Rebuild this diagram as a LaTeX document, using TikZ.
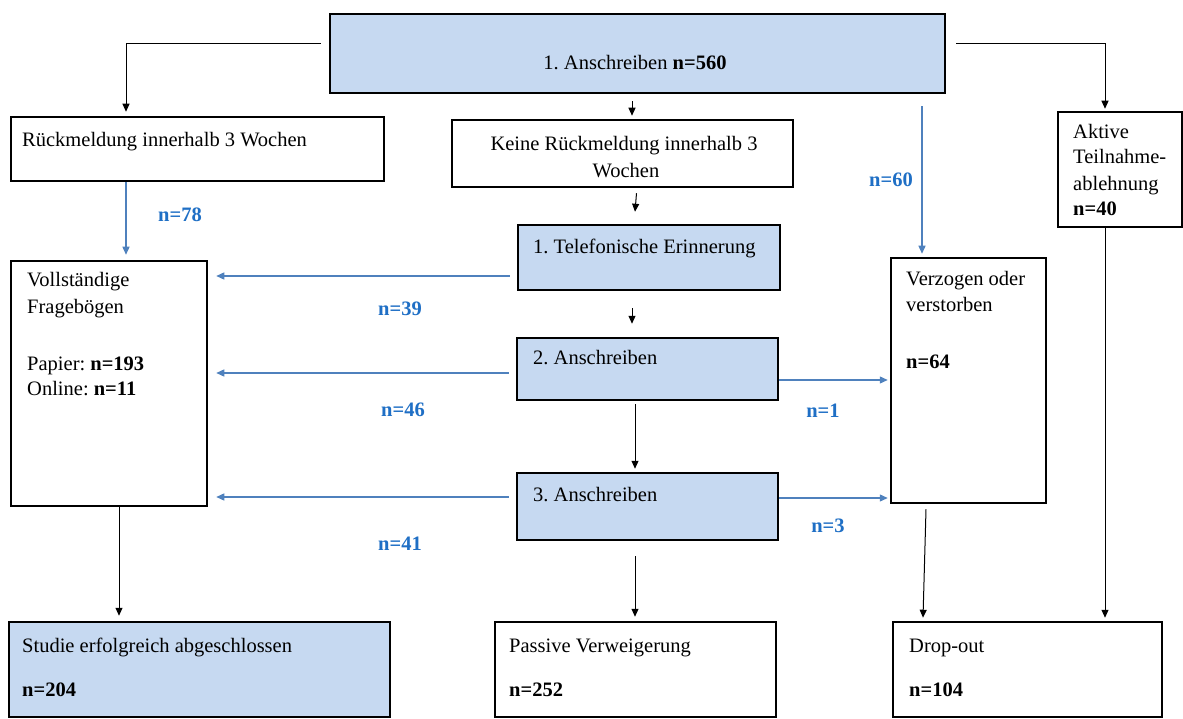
\documentclass[tikz,border=0pt]{standalone}
\usepackage{fontspec}
\setmainfont{Liberation Serif}
\usetikzlibrary{arrows.meta,calc}
\definecolor{boxblue}{HTML}{C6D9F1}
\definecolor{linkblue}{HTML}{4F81BD}
\definecolor{countblue}{HTML}{1F6FC5}
\frenchspacing
\begin{document}
\begin{tikzpicture}[x=1pt,y=-1pt,
  stage/.style={draw=black,line width=2.5pt,inner sep=0pt},
  bluestage/.style={stage,fill=boxblue},
  txt/.style={inner sep=0pt,anchor=base west,font=\fontsize{20.5}{26.5}\selectfont},
  ctxt/.style={txt,anchor=base},
  count/.style={inner sep=0pt,anchor=base,text=countblue,font=\fontsize{20.5}{24}\selectfont\bfseries},
  flow/.style={draw=black,line width=1pt,-{Triangle[length=8pt,width=7pt]}},
  bflow/.style={draw=linkblue,line width=1.3pt,-{Triangle[length=8pt,width=7pt]}}]
\useasboundingbox (0,0) rectangle (1183,719);

% boxes
\node[bluestage,minimum width=615pt,minimum height=79pt] (start) at (637.5,53.5) {};
\node[stage,minimum width=373pt,minimum height=64pt] (rueck) at (197.5,149) {};
\node[stage,minimum width=341pt,minimum height=67pt] (keine) at (622.5,153.5) {};
\node[stage,minimum width=124pt,minimum height=115pt] (aktive) at (1120,169.5) {};
\node[bluestage,minimum width=262pt,minimum height=65pt] (tel) at (649,257.5) {};
\node[stage,minimum width=196pt,minimum height=245pt] (voll) at (109,383.5) {};
\node[bluestage,minimum width=261pt,minimum height=62pt] (ansch2) at (647.5,369) {};
\node[bluestage,minimum width=261pt,minimum height=67pt] (ansch3) at (647.5,506.5) {};
\node[stage,minimum width=155pt,minimum height=245pt] (verz) at (968.5,380.5) {};
\node[bluestage,minimum width=381pt,minimum height=95pt] (studie) at (199.5,669.5) {};
\node[stage,minimum width=281pt,minimum height=95pt] (passive) at (635.5,669.5) {};
\node[stage,minimum width=269pt,minimum height=95pt] (dropout) at (1027.5,669.5) {};

% box texts, one node per line
\node[ctxt] (tstart) at (635,70) {1. Anschreiben \textbf{n=560}};
\node[txt] (trueck) at (22,147) {Rückmeldung innerhalb 3 Wochen};
\node[ctxt] (tkeineA) at (624,151) {Keine Rückmeldung innerhalb 3};
\node[ctxt] (tkeineB) at (626,178) {Wochen};
\node[txt] (taktiveA) at (1073,139) {Aktive};
\node[txt] (taktiveB) at (1073,164) {Teilnahme-};
\node[txt] (taktiveC) at (1073,191) {ablehnung};
\node[txt] (taktiveD) at (1073,216) {\textbf{n=40}};
\node[txt] (ttel) at (533,254) {1. Telefonische Erinnerung};
\node[txt] (tvollA) at (27,287) {Vollständige};
\node[txt] (tvollB) at (27,313) {Fragebögen};
\node[txt] (tvollC) at (27,370) {Papier: \textbf{n=193}};
\node[txt] (tvollD) at (27,395) {Online: \textbf{n=11}};
\node[txt] (tansch2) at (533,364) {2. Anschreiben};
\node[txt] (tansch3) at (533,501) {3. Anschreiben};
\node[txt] (tverzA) at (906,286) {Verzogen oder};
\node[txt] (tverzB) at (906,312) {verstorben};
\node[txt] (tverzC) at (906,368) {\textbf{n=64}};
\node[txt] (tstudieA) at (22,652) {Studie erfolgreich abgeschlossen};
\node[txt] (tstudieB) at (22,696) {\textbf{n=204}};
\node[txt] (tpassiveA) at (509,652) {Passive Verweigerung};
\node[txt] (tpassiveB) at (509,696) {\textbf{n=252}};
\node[txt] (tdropoutA) at (909,652) {Drop-out};
\node[txt] (tdropoutB) at (909,696) {\textbf{n=104}};

% black connectors
\draw[flow,shorten <=8pt,shorten >=4pt] ($(start.west)+(0,-9.5)$) -| ($(rueck.north)+(-71.5,0)$);
\draw[flow,shorten <=10pt,shorten >=2pt] ($(start.east)+(0,-9.5)$) -| ($(aktive.north)+(-15,0)$);
\draw[flow] ($(start.south)+(-5.5,7)$) -- ($(keine.north)+(9.5,-3)$);
\draw[flow] ($(keine.south)+(14,5)$) -- ($(tel.north)+(-14,-12)$);
\draw[flow] ($(tel.south)+(-17,17)$) -- ($(ansch2.north)+(-15.5,-13)$);
\draw[flow] ($(ansch2.south)+(-12.5,3)$) -- ($(ansch3.north)+(-12.5,-3)$);
\draw[flow] ($(ansch3.south)+(-12.5,15)$) -- ($(passive.north)+(-0.5,-4)$);
\draw[flow] ($(voll.south)+(10,0)$) -- ($(studie.north)+(-80.5,-5)$);
\draw[flow] ($(verz.south)+(-42.5,5)$) -- ($(dropout.north)+(-104.5,-3)$);
\draw[flow] ($(aktive.south)+(-15,0)$) -- ($(dropout.north)+(77.5,-3)$);

% blue connectors
\draw[bflow] ($(rueck.south)+(-71.5,0)$) -- ($(voll.north)+(17,-5)$);
\draw[bflow] ($(start.south)+(284.5,12)$) -- ($(verz.north)+(-46.5,-3)$);
\coordinate (c1) at ($(tel.west)+(-7,18.5)$);
\draw[bflow,shorten >=8pt] (c1) -- (c1 -| voll.east);
\coordinate (c2) at ($(ansch2.west)+(-7,4)$);
\draw[bflow,shorten >=8pt] (c2) -- (c2 -| voll.east);
\coordinate (c3) at ($(ansch3.west)+(-7,-9.5)$);
\draw[bflow,shorten >=8pt] (c3) -- (c3 -| voll.east);
\coordinate (c4) at ($(ansch2.east)+(0,11)$);
\draw[bflow,shorten >=2pt] (c4) -- (c4 -| verz.west);
\coordinate (c5) at ($(ansch3.east)+(0,-8.5)$);
\draw[bflow,shorten >=2pt] (c5) -- (c5 -| verz.west);

% counts on the blue connectors
\node[count] (n78) at (180,222) {n=78};
\node[count] (n60) at (891,187) {n=60};
\node[count] (n39) at (400,316) {n=39};
\node[count] (n46) at (403,416) {n=46};
\node[count] (n41) at (400,550) {n=41};
\node[count] (n1) at (823,417) {n=1};
\node[count] (n3) at (828,532) {n=3};
\end{tikzpicture}
\end{document}
